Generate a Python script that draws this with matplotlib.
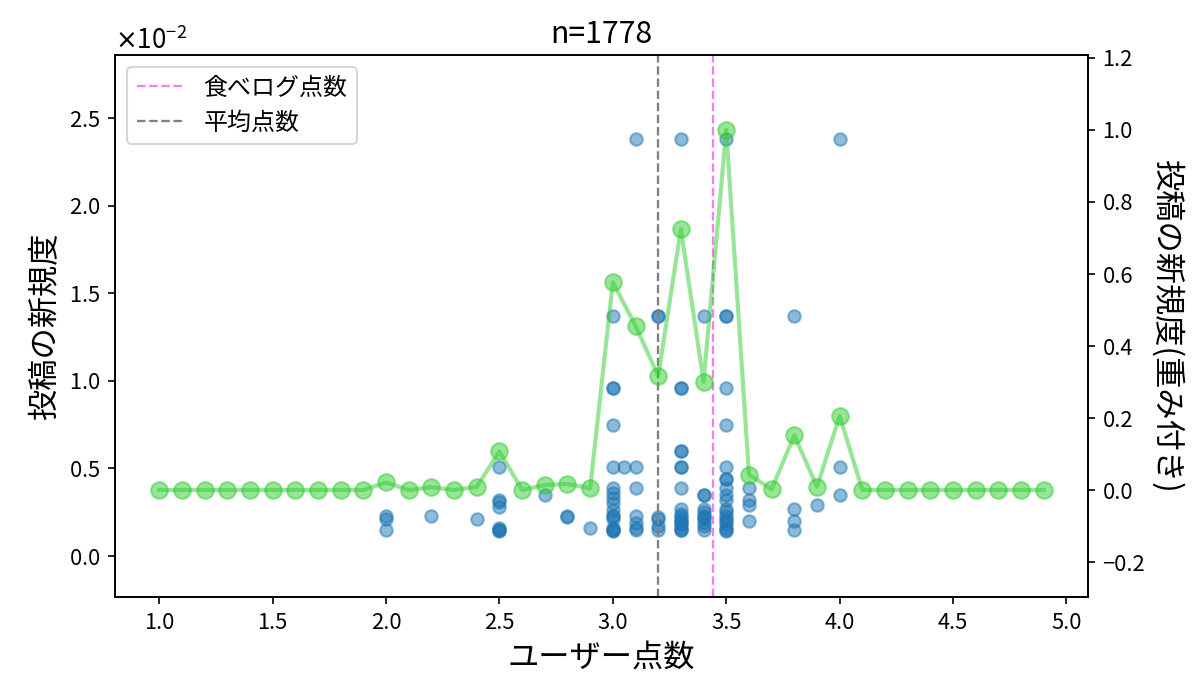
import matplotlib
matplotlib.use('Agg')
import matplotlib.pyplot as plt
from matplotlib.ticker import ScalarFormatter

plt.rcParams['font.family'] = ['Noto Sans CJK JP', 'DejaVu Sans']

# scatter: user score vs novelty of each post (raw values)
score_x = [2.0, 2.0, 2.0,
           2.2, 2.4,
           2.5, 2.5, 2.5, 2.5, 2.5, 2.5, 2.5, 2.5,
           2.7, 2.8, 2.8, 2.9,
           3.0, 3.0, 3.0, 3.0, 3.0, 3.0, 3.0, 3.0, 3.0, 3.0, 3.0, 3.0, 3.0, 3.0, 3.0, 3.0, 3.0,
           3.05,
           3.1, 3.1, 3.1, 3.1, 3.1, 3.1, 3.1,
           3.2, 3.2, 3.2, 3.2, 3.2, 3.2,
           3.3, 3.3, 3.3, 3.3, 3.3, 3.3, 3.3, 3.3, 3.3, 3.3, 3.3, 3.3, 3.3, 3.3, 3.3, 3.3, 3.3, 3.3,
           3.4, 3.4, 3.4, 3.4, 3.4, 3.4, 3.4, 3.4, 3.4, 3.4, 3.4,
           3.5, 3.5, 3.5, 3.5, 3.5, 3.5, 3.5, 3.5, 3.5, 3.5, 3.5, 3.5, 3.5, 3.5, 3.5, 3.5, 3.5, 3.5, 3.5, 3.5,
           3.6, 3.6, 3.6, 3.6,
           3.8, 3.8, 3.8, 3.8,
           3.9,
           4.0, 4.0, 4.0]
novelty_y = [0.23, 0.21, 0.15,
             0.23, 0.21,
             0.51, 0.32, 0.31, 0.28, 0.16, 0.15, 0.15, 0.14,
             0.35, 0.23, 0.22, 0.16,
             1.37, 0.96, 0.96, 0.75, 0.51, 0.39, 0.36, 0.33, 0.30, 0.26, 0.23, 0.23, 0.21, 0.16, 0.15, 0.15, 0.14,
             0.51,
             2.38, 0.51, 0.39, 0.23, 0.19, 0.16, 0.15,
             1.37, 1.37, 0.22, 0.21, 0.17, 0.15,
             2.38, 0.96, 0.96, 0.60, 0.60, 0.51, 0.51, 0.39, 0.27, 0.24, 0.23, 0.21, 0.20, 0.19, 0.18, 0.16, 0.15, 0.15,
             1.37, 0.35, 0.35, 0.27, 0.25, 0.23, 0.22, 0.21, 0.19, 0.17, 0.15,
             2.38, 1.37, 1.37, 0.96, 0.75, 0.51, 0.44, 0.44, 0.39, 0.35, 0.32, 0.27, 0.25, 0.23, 0.21, 0.20, 0.18, 0.16, 0.15, 0.14,
             0.39, 0.32, 0.29, 0.20,
             1.37, 0.27, 0.20, 0.15,
             0.29,
             2.38, 0.51, 0.35]
novelty_y = [v * 1e-2 for v in novelty_y]

# weighted novelty per score bin
bin_x = [1.0, 1.1, 1.2, 1.3, 1.4, 1.5, 1.6, 1.7, 1.8, 1.9,
         2.0, 2.1, 2.2, 2.3, 2.4, 2.5, 2.6, 2.7, 2.8, 2.9,
         3.0, 3.1, 3.2, 3.3, 3.4, 3.5, 3.6, 3.7, 3.8, 3.9,
         4.0, 4.1, 4.2, 4.3, 4.4, 4.5, 4.6, 4.7, 4.8, 4.9]
weighted = [0, 0, 0, 0, 0, 0, 0, 0, 0, 0,
            0.021, 0.0, 0.008, 0.0, 0.009, 0.107, 0.0, 0.014, 0.017, 0.005,
            0.577, 0.456, 0.317, 0.724, 0.301, 1.0, 0.043, 0.002, 0.152, 0.009,
            0.206, 0, 0, 0, 0, 0, 0, 0, 0, 0]

tabelog_score = 3.44
mean_score = 3.2
n_posts = 1778

fig = plt.figure(figsize=(8, 4.647), dpi=150)
ax = fig.add_axes([0.0958, 0.1435, 0.8109, 0.7775])
ax.scatter(score_x, novelty_y, alpha=0.5)
ax.axvline(tabelog_score, color='violet', linestyle='--', linewidth=1.1, label='食べログ点数')
ax.axvline(mean_score, color='gray', linestyle='--', linewidth=1.1, label='平均点数')
ax.set_ylim(-0.234e-2, 2.86e-2)

fmt = ScalarFormatter(useMathText=True)
fmt.set_powerlimits((-1, 1))
ax.yaxis.set_major_formatter(fmt)
ax.yaxis.get_offset_text().set_fontsize(12.5)
ax.tick_params(labelsize=10.5)

ax.set_xlabel('ユーザー点数', fontsize=15)
ax.set_ylabel('投稿の新規度', fontsize=15)
ax.set_title('n=%d' % n_posts, fontsize=14.5)
ax.legend(loc='upper left', fontsize=11.5)

ax2 = ax.twinx()
ax2.plot(bin_x, weighted, color='limegreen', marker='o', markersize=8,
         linewidth=2, alpha=0.5)
ax2.set_ylim(-0.297, 1.208)
ax2.tick_params(labelsize=10.5)
ax2.set_ylabel('投稿の新規度(重み付き)', fontsize=15, rotation=270, labelpad=18)

fig.savefig('out.png', dpi=150)
